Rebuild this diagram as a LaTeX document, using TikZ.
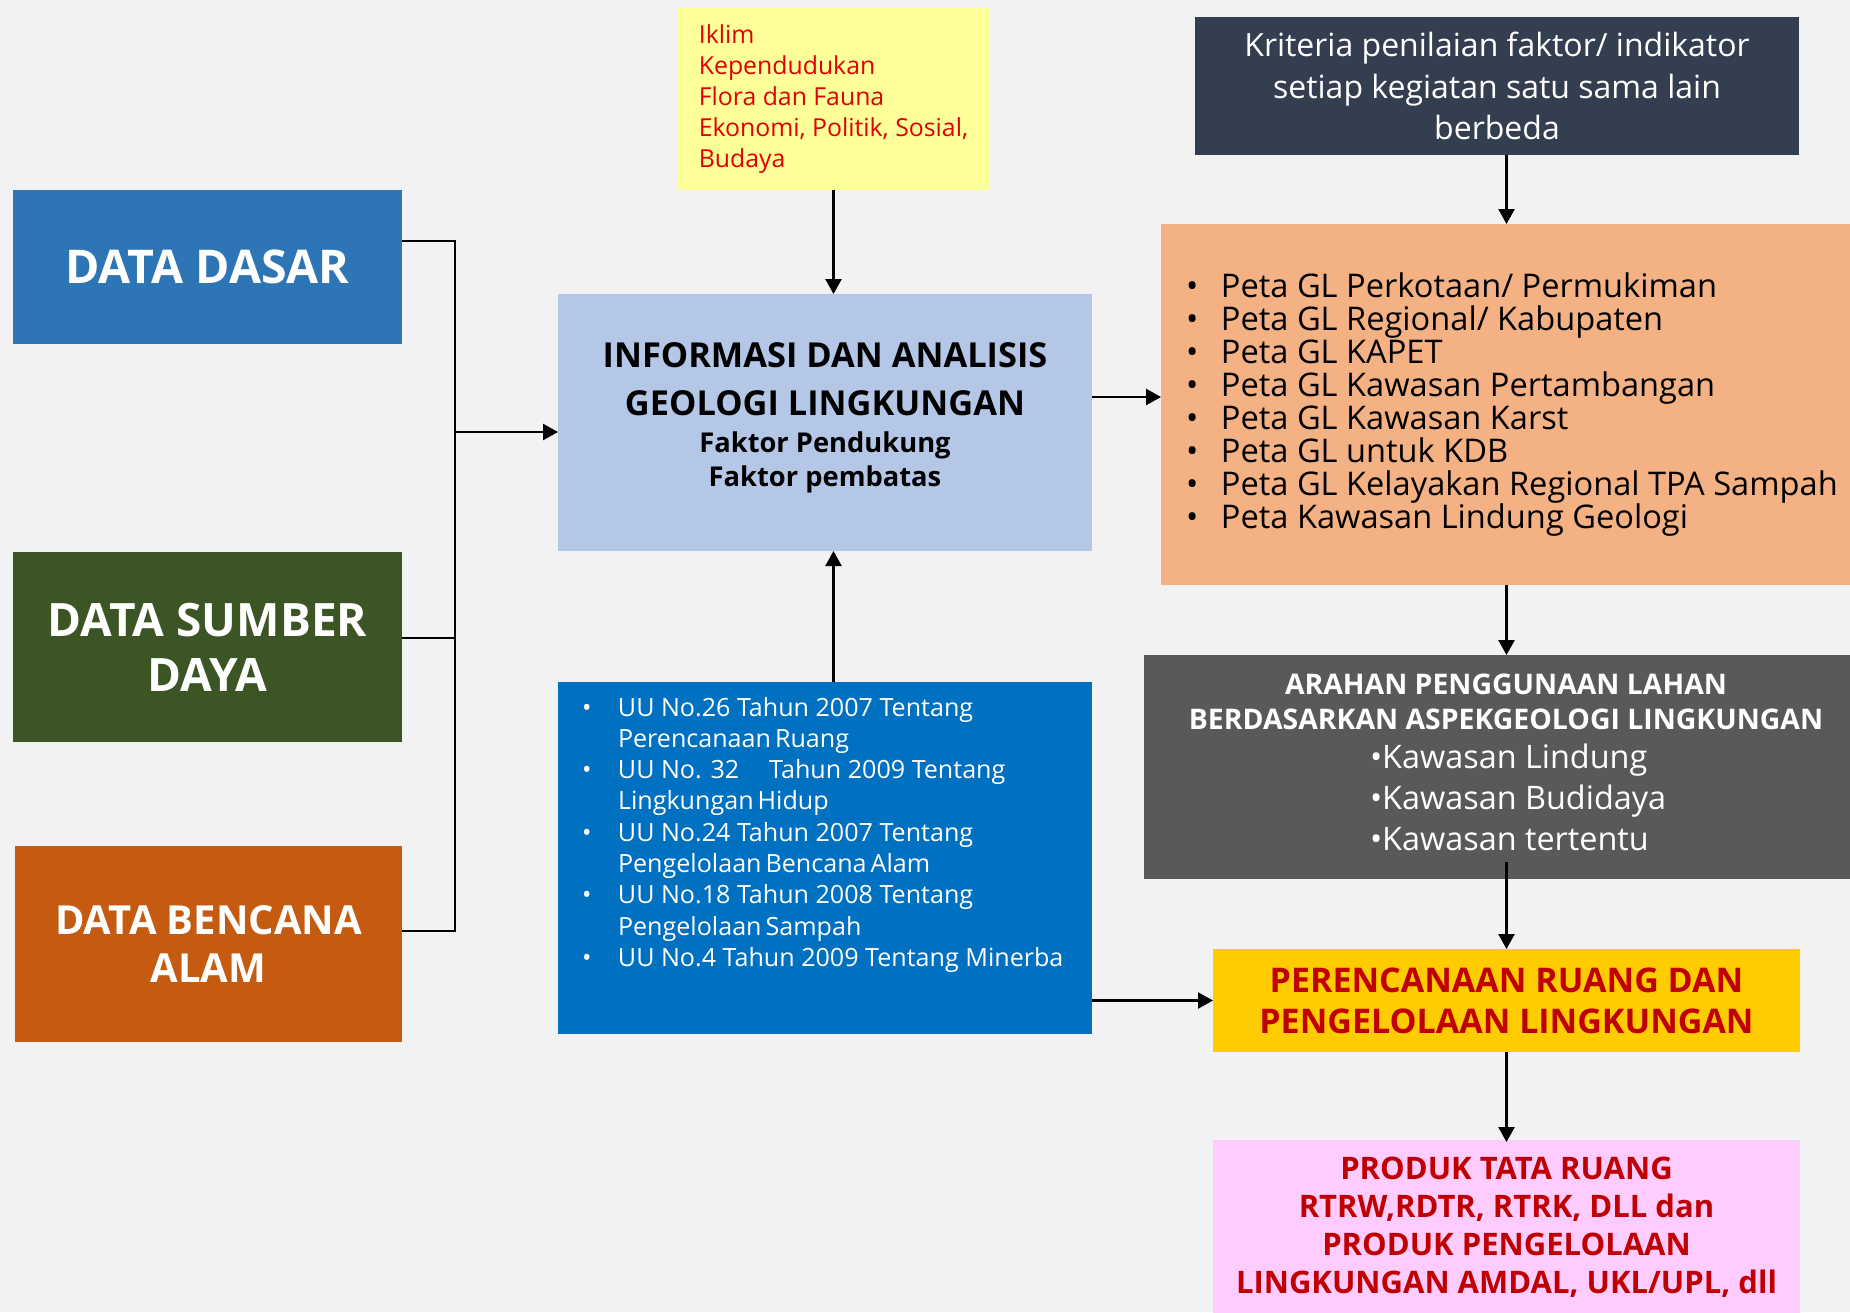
\documentclass[tikz,border=0pt]{standalone}
\usepackage{fontspec}
\setmainfont{Open Sans}
\usetikzlibrary{arrows.meta}

\definecolor{canvas}{HTML}{F2F2F2}
\definecolor{dasarblue}{HTML}{2E75B6}
\definecolor{sumbergreen}{HTML}{3B5524}
\definecolor{bencanaorange}{HTML}{C55A11}
\definecolor{noteyellow}{HTML}{FFFF99}
\definecolor{notered}{HTML}{E00000}
\definecolor{infoblue}{HTML}{B4C7E7}
\definecolor{lawblue}{HTML}{0070C0}
\definecolor{slate}{HTML}{333F50}
\definecolor{peach}{HTML}{F4B183}
\definecolor{arahgray}{HTML}{595959}
\definecolor{goldbox}{HTML}{FFCC00}
\definecolor{deepred}{HTML}{C00000}
\definecolor{prodpink}{HTML}{FFCCFF}

\newcommand{\setfs}[2]{\fontsize{#1}{#2}\selectfont}
\newcommand{\mapbullet}{\makebox[35pt][l]{•}}
\newcommand{\lawbullet}{\makebox[36pt][l]{•}}
\newcommand{\lawcont}{\hspace*{36pt}}

\begin{document}
\begin{tikzpicture}[x=1pt,y=-1pt,
  box/.style={anchor=north west, inner sep=0pt, outer sep=0pt, align=center},
  link/.style={line width=2.4pt, line join=miter},
  flow/.style={link, -{Triangle[length=15pt,width=16pt]}}]

\fill[canvas] (0,0) rectangle (1850,1312);
\useasboundingbox (0,0) rectangle (1850,1312);

% input data boxes
\node[box, fill=dasarblue, minimum width=389pt, minimum height=154pt, text=white,
      font=\bfseries\setfs{46.5}{54}] (dasar) at (13,190) {DATA DASAR};
\node[box, fill=sumbergreen, minimum width=389pt, minimum height=190pt, text=white,
      font=\bfseries\setfs{46}{55}] (sumber) at (13,552) {DATA SUMBER\\DAYA};
\node[box, fill=bencanaorange, minimum width=387pt, minimum height=196pt, text=white,
      font=\bfseries\setfs{40}{48}] (bencana) at (15,846) {DATA BENCANA\\ALAM};

% supporting factors
\node[box, fill=noteyellow, minimum width=311pt, minimum height=182pt, text=notered,
      font=\setfs{24.8}{31.2}, align=left] (climate) at (678,8)
  {Iklim\\Kependudukan\\Flora dan Fauna\\Ekonomi, Politik, Sosial,\\Budaya};

% central analysis box
\node[box, fill=infoblue, minimum width=534pt, minimum height=257pt] (info) at (558,294)
  {\parbox{534pt}{\centering\bfseries
     \setfs{34.4}{48}INFORMASI DAN ANALISIS\\GEOLOGI LINGKUNGAN\par
     \vspace{3pt}\setfs{27.3}{34}Faktor Pendukung\\Faktor pembatas\par
     \vspace{9pt}}};

% legal basis
\node[box, fill=lawblue, minimum width=534pt, minimum height=352pt, text=white] (laws) at (558,682)
  {\begin{minipage}[c][352pt][t]{534pt}
     \setfs{25.1}{31.3}\raggedright\leftskip=24pt
     \vspace*{15pt}
     \lawbullet UU No.26 Tahun 2007 Tentang\\
     \lawcont Perencanaan\hspace{4pt}Ruang\\
     \lawbullet UU No. 32\hspace{30pt}Tahun 2009 Tentang\\
     \lawcont Lingkungan\hspace{4pt}Hidup\\
     \lawbullet UU No.24 Tahun 2007 Tentang\\
     \lawcont Pengelolaan\hspace{4pt}Bencana\hspace{4pt}Alam\\
     \lawbullet UU No.18 Tahun 2008 Tentang\\
     \lawcont Pengelolaan\hspace{4pt}Sampah\\
     \lawbullet UU No.4 Tahun 2009 Tentang Minerba\par
   \end{minipage}};

% assessment criteria
\node[box, fill=slate, minimum width=604pt, minimum height=138pt, text=white,
      font=\setfs{32}{41.5}] (criteria) at (1195,17)
  {Kriteria penilaian faktor/ indikator\\setiap kegiatan satu sama lain\\berbeda};

% map products
\node[box, fill=peach, minimum width=689pt, minimum height=361pt] (maps) at (1161,224)
  {\parbox{689pt}{\raggedright\leftskip=25pt\setfs{32.6}{33}%
   \mapbullet Peta GL Perkotaan/ Permukiman\\
   \mapbullet Peta GL Regional/ Kabupaten\\
   \mapbullet Peta GL KAPET\\
   \mapbullet Peta GL Kawasan Pertambangan\\
   \mapbullet Peta GL Kawasan Karst\\
   \mapbullet Peta GL untuk KDB\\
   \mapbullet Peta GL Kelayakan Regional TPA Sampah\\
   \mapbullet Peta Kawasan Lindung Geologi\par}};

% land use direction
\node[box, fill=arahgray, minimum width=706pt, minimum height=224pt, text=white] (land) at (1144,655)
  {\parbox{706pt}{\centering\leftskip=18pt plus 1fil\bfseries\setfs{28.4}{35}%
     ARAHAN PENGGUNAAN LAHAN\\BERDASARKAN ASPEKGEOLOGI LINGKUNGAN\par
     \vspace{-2pt}%
     \raggedright\leftskip=226pt\mdseries\setfs{32.4}{41}%
     •Kawasan Lindung\\•Kawasan Budidaya\\•Kawasan tertentu\par
     \vspace{10pt}}};

% planning and products
\node[box, fill=goldbox, minimum width=587pt, minimum height=103pt, text=deepred,
      font=\bfseries\setfs{34}{41}] (plan) at (1213,949)
  {PERENCANAAN RUANG DAN\\PENGELOLAAN LINGKUNGAN};
\node[box, fill=prodpink, minimum width=587pt, minimum height=174pt, text=deepred,
      font=\bfseries\setfs{31}{38}] (products) at (1213,1140)
  {PRODUK TATA RUANG\\RTRW,RDTR, RTRK, DLL dan\\PRODUK PENGELOLAAN\\LINGKUNGAN AMDAL, UKL/UPL, dll};

% data bus into the analysis box
\coordinate (bus) at (455,432);
\draw[link] ([yshift=26pt]dasar.east) -| (bus);
\draw[link] ([yshift=13pt]bencana.east) -| (bus);
\draw[link] ([yshift=9pt]sumber.east) -| (bus);
\draw[flow] (bus) -- (bus -| info.west);

% vertical feeds into the analysis box
\draw[flow] (climate.south) -- (climate.south |- info.north);
\draw[flow] (climate.south |- laws.north) -- (climate.south |- info.south);

% analysis to maps
\draw[flow] ([yshift=25.5pt]info.east) -- ([yshift=25.5pt]info.east -| maps.west);

% right-hand chain
\draw[flow] (criteria.south -| plan.north) -- (maps.north -| plan.north);
\draw[flow] (maps.south -| plan.north) -- (land.north -| plan.north);
\draw[flow] ([yshift=17pt]land.south -| plan.north) -- (plan.north);
\draw[flow] (plan.west -| laws.east) -- (plan.west);
\draw[flow] (plan.south) -- ([yshift=-2pt]products.north);
\end{tikzpicture}
\end{document}
